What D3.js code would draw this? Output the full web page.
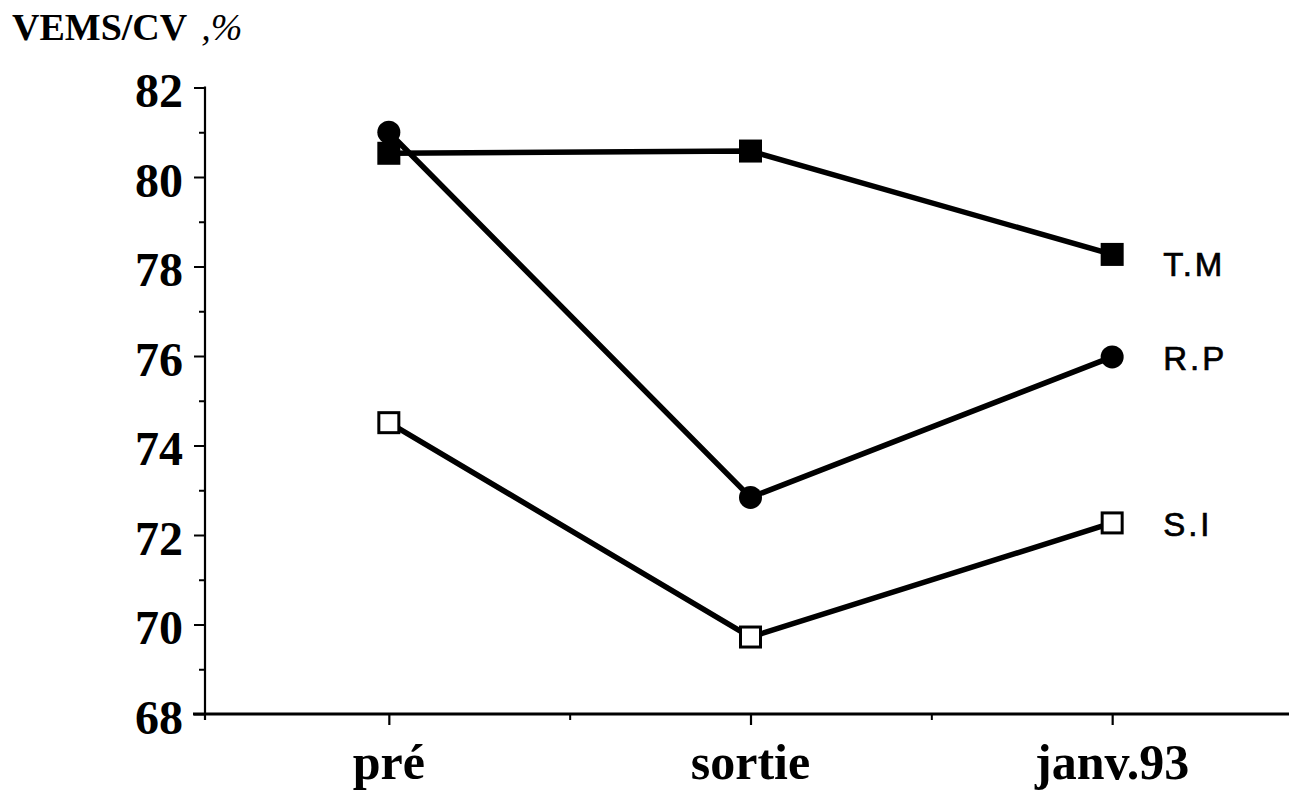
<!DOCTYPE html>
<html>
<head>
<meta charset="utf-8">
<script src="https://cdn.jsdelivr.net/npm/d3@7"></script>
<style>
  html, body { margin: 0; padding: 0; background: #fff; }
  svg { display: block; }
</style>
</head>
<body>
<script>
// ---- data ----
const categories = ["pré", "sortie", "janv.93"];
const seriesNames = ["T.M", "R.P", "S.I"];
const valuesTM = [80.53, 80.58, 78.27];
const valuesRP = [81.0, 72.84, 75.98];
const valuesSI = [74.51, 69.72, 72.27];
const yMajorTicks = [68, 70, 72, 74, 76, 78, 80, 82];
const yMinorTicks = [69, 71, 73, 75, 77, 79, 81];
const yTitle = "VEMS/CV";
const yUnit = ",%";

const W = 1289, H = 796;
const svg = d3.select("body").append("svg").attr("width", W).attr("height", H);
svg.append("rect").attr("width", W).attr("height", H).attr("fill", "#fff");

const axisX0 = 205;     // y-axis position
const axisY0 = 714;     // x-axis position
const x = d3.scaleLinear().domain([0.5, 3.5]).range([208, 1293]);
const y = d3.scaleLinear().domain([68, 82]).range([axisY0, 87.5]);

const serif = "'Liberation Serif', 'Times New Roman', serif";
const sans = "'Liberation Sans', Arial, sans-serif";

// ---- y axis ----
const gy = svg.append("g").attr("transform", `translate(${axisX0},0)`);
gy.call(d3.axisLeft(y).tickValues(yMajorTicks).tickSize(11).tickFormat(d3.format("d")))
  .call(g => g.select(".domain").remove())
  .call(g => g.selectAll(".tick line").attr("stroke", "#000").attr("stroke-width", 2))
  .call(g => g.selectAll(".tick text")
     .attr("x", -22).attr("dy", "0.4em")
     .attr("font-family", serif).attr("font-weight", "bold").attr("font-size", 48).attr("fill", "#000"));
gy.append("g").call(d3.axisLeft(y).tickValues(yMinorTicks).tickSize(6).tickFormat(""))
  .call(g => g.select(".domain").remove())
  .call(g => g.selectAll(".tick line").attr("stroke", "#000").attr("stroke-width", 2));
svg.append("line").attr("x1", axisX0).attr("x2", axisX0).attr("y1", y(82) - 1).attr("y2", axisY0 + 6)
  .attr("stroke", "#000").attr("stroke-width", 2.2);

// ---- x axis ----
const gx = svg.append("g").attr("transform", `translate(0,${axisY0})`);
gx.call(d3.axisBottom(x).tickValues([1, 2, 3]).tickSize(11).tickFormat(""))
  .call(g => g.select(".domain").remove())
  .call(g => g.selectAll(".tick line").attr("stroke", "#000").attr("stroke-width", 2.2));
gx.append("g").call(d3.axisBottom(x).tickValues([1.5, 2.5]).tickSize(6).tickFormat(""))
  .call(g => g.select(".domain").remove())
  .call(g => g.selectAll(".tick line").attr("stroke", "#000").attr("stroke-width", 2));
svg.append("line").attr("x1", 193).attr("x2", W).attr("y1", axisY0).attr("y2", axisY0)
  .attr("stroke", "#000").attr("stroke-width", 3);

svg.append("g").selectAll("text").data(categories).join("text")
  .attr("x", (d, i) => x(i + 1)).attr("y", 779)
  .attr("text-anchor", "middle")
  .attr("font-family", serif).attr("font-weight", "bold").attr("font-size", 50).attr("fill", "#000")
  .text(d => d);

// ---- title ----
const t = svg.append("text").attr("x", 12).attr("y", 40).attr("fill", "#000");
t.append("tspan").attr("font-family", serif).attr("font-weight", "bold").attr("font-size", 38).text(yTitle);
t.append("tspan").attr("font-family", serif).attr("font-style", "italic").attr("font-size", 38)
  .attr("dx", 14).text(yUnit);

// ---- series ----
const series = [
  { name: seriesNames[0], values: valuesTM, marker: "square", fill: "#000", nudge: 10 },
  { name: seriesNames[1], values: valuesRP, marker: "circle", fill: "#000", nudge: 1.5 },
  { name: seriesNames[2], values: valuesSI, marker: "square", fill: "#fff", nudge: 1.5 }
];
const line = d3.line().x((d, i) => x(i + 1)).y(d => y(d));

series.forEach(s => {
  svg.append("path").attr("d", line(s.values)).attr("fill", "none")
    .attr("stroke", "#000").attr("stroke-width", 5.5).attr("stroke-linejoin", "round");
});
series.forEach(s => {
  const g = svg.append("g");
  if (s.marker === "circle") {
    g.selectAll("circle").data(s.values).join("circle")
      .attr("cx", (d, i) => x(i + 1)).attr("cy", d => y(d)).attr("r", 11.5).attr("fill", "#000");
  } else if (s.fill === "#000") {
    g.selectAll("rect").data(s.values).join("rect")
      .attr("x", (d, i) => x(i + 1) - 11.5).attr("y", d => y(d) - 11.5)
      .attr("width", 23).attr("height", 23).attr("fill", "#000");
  } else {
    g.selectAll("rect").data(s.values).join("rect")
      .attr("x", (d, i) => x(i + 1) - 10).attr("y", d => y(d) - 10)
      .attr("width", 20).attr("height", 20).attr("fill", "#fff")
      .attr("stroke", "#000").attr("stroke-width", 3);
  }
  svg.append("text")
    .attr("x", x(3) + 51).attr("y", y(s.values[2]) + s.nudge)
    .attr("dy", "0.36em")
    .attr("font-family", sans).attr("font-size", 33).attr("letter-spacing", 3)
    .attr("fill", "#000").attr("stroke", "#000").attr("stroke-width", 0.7)
    .text(s.name);
});
</script>
</body>
</html>
